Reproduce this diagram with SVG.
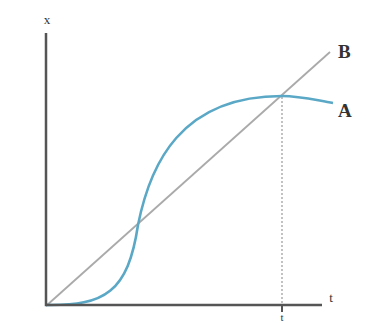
<svg xmlns="http://www.w3.org/2000/svg" width="366" height="323" viewBox="0 0 366 323">
<style>
.lbl{font-family:"Liberation Serif","Times New Roman",serif;fill:#333}
.big{font-size:19px;font-weight:bold}
.sm{font-size:13px}
.axis{stroke:#555;stroke-width:2.5;fill:none}
</style>
<rect width="366" height="323" fill="#fff"/>
<g id="connectors">
<line id="tmark" x1="282" y1="97" x2="282" y2="305" stroke="#999" stroke-width="1.2" stroke-dasharray="2,2"/>
<line id="lineB" x1="46" y1="306" x2="330" y2="52" stroke="#aaa" stroke-width="1.8"/>
<path id="curveA" d="M46,305 C105,306 128,292 138,225 C150,165 180,96 282,96 C300,96 315,100 333,103" fill="none" stroke="#5aa8c6" stroke-width="2.6"/>
</g>
<g id="axes">
<polyline class="axis" points="46,33 46,305 322,305"/>
<line x1="282" y1="305" x2="282" y2="312" stroke="#555" stroke-width="2"/>
</g>
<g id="labels">
<text class="lbl sm" x="47" y="24" text-anchor="middle">x</text>
<text class="lbl sm" x="331" y="302" text-anchor="middle">t</text>
<text class="lbl" font-size="11" x="282" y="321" text-anchor="middle">t</text>
<text class="lbl big" x="338" y="58">B</text>
<text class="lbl big" x="338" y="117">A</text>
</g>
</svg>
